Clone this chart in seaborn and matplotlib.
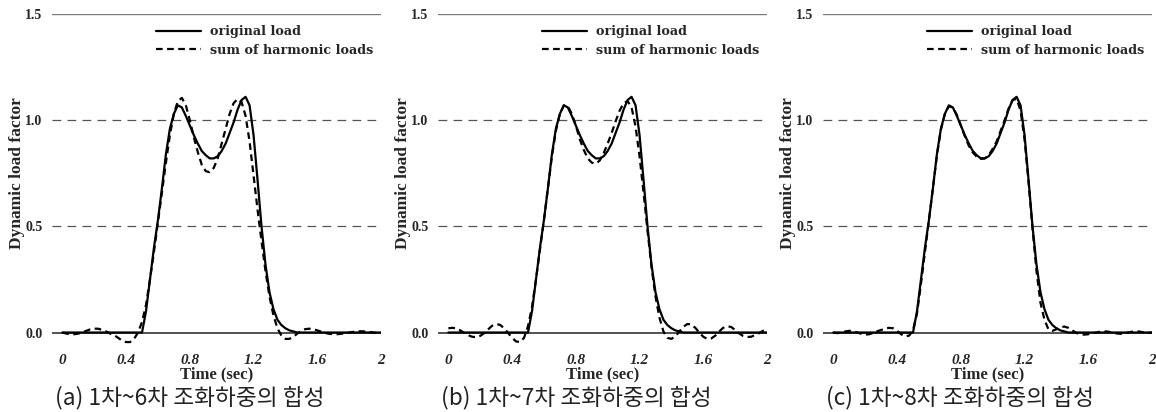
import numpy as np
import pandas as pd
import matplotlib
matplotlib.use("Agg")
import matplotlib.pyplot as plt
from matplotlib.lines import Line2D
import seaborn as sns

# ---------------- data ----------------
time_s = np.linspace(0, 2, 81)          # sampling grid, 0.025 s step

original_load = [
    0, 0, 0, 0, 0, 0, 0, 0, 0, 0, 0, 0, 0, 0, 0, 0, 0, 0, 0, 0, 0,
    0.10, 0.25, 0.40, 0.53, 0.68, 0.84, 0.96, 1.03, 1.07, 1.06,
    1.02, 0.975, 0.93, 0.89, 0.855, 0.835, 0.82, 0.82, 0.83, 0.855,
    0.89, 0.94, 0.99, 1.05, 1.095, 1.11, 1.07, 0.93, 0.72, 0.50,
    0.32, 0.19, 0.11, 0.06, 0.035, 0.02, 0.01, 0.005,
    0, 0, 0, 0, 0, 0, 0, 0, 0, 0, 0, 0, 0, 0, 0, 0, 0, 0, 0, 0, 0, 0,
]

harmonic_sum_6 = [
    0.0, -0.005, -0.008, -0.008, -0.005, 0.0, 0.008, 0.015, 0.018, 0.018,
    0.012, 0.005, -0.005, -0.012, -0.025, -0.038, -0.045, -0.045, -0.03, 0.0, 0.05,
    0.13, 0.25, 0.38, 0.52, 0.66, 0.80, 0.93, 1.03, 1.09, 1.105,
    1.07, 1.0, 0.92, 0.85, 0.79, 0.76, 0.755, 0.775, 0.82, 0.89,
    0.96, 1.03, 1.08, 1.10, 1.085, 1.02, 0.90, 0.74, 0.58, 0.43,
    0.29, 0.17, 0.08, 0.02, -0.015, -0.03, -0.03, -0.02, -0.005, 0.008,
    0.016, 0.018, 0.016, 0.01, 0.004, -0.002, -0.006, -0.008, -0.008, -0.006,
    -0.003, 0.0, 0.003, 0.005, 0.006, 0.005, 0.003, 0.0, -0.002, 0.0,
]

harmonic_sum_7 = [
    0.02, 0.022, 0.02, 0.01, -0.002, -0.013, -0.02, -0.022, -0.016, -0.003,
    0.015, 0.032, 0.04, 0.036, 0.02, -0.002, -0.025, -0.042, -0.045, -0.025, 0.03,
    0.12, 0.25, 0.39, 0.53, 0.68, 0.83, 0.95, 1.03, 1.07, 1.065,
    1.03, 0.975, 0.91, 0.86, 0.82, 0.80, 0.795, 0.81, 0.845, 0.89,
    0.94, 0.995, 1.045, 1.08, 1.09, 1.06, 0.97, 0.83, 0.66, 0.48,
    0.31, 0.17, 0.07, 0.005, -0.025, -0.03, -0.018, 0.005, 0.027, 0.04,
    0.038, 0.022, 0.0, -0.02, -0.03, -0.028, -0.015, 0.005, 0.022, 0.03,
    0.026, 0.012, -0.004, -0.016, -0.021, -0.02, -0.012, -0.003, 0.008, 0.015,
]

harmonic_sum_8 = [
    0.0, -0.003, 0.0, 0.005, 0.008, 0.006, 0.0, -0.006, -0.01, -0.008,
    -0.002, 0.006, 0.012, 0.018, 0.022, 0.02, 0.008, -0.008, -0.018, -0.015, 0.01,
    0.09, 0.23, 0.38, 0.53, 0.68, 0.835, 0.955, 1.03, 1.065, 1.06,
    1.025, 0.975, 0.925, 0.88, 0.848, 0.828, 0.818, 0.82, 0.835, 0.865,
    0.90, 0.95, 1.0, 1.055, 1.095, 1.10, 1.045, 0.91, 0.71, 0.49,
    0.29, 0.14, 0.06, 0.015, 0.008, 0.015, 0.025, 0.028, 0.022, 0.01,
    -0.002, -0.008, -0.01, -0.008, -0.004, 0.0, 0.004, 0.006, 0.004, 0.0,
    -0.004, -0.006, -0.004, 0.0, 0.004, 0.006, 0.004, 0.0, -0.002, 0.0,
]

x_ticks = [0, 0.4, 0.8, 1.2, 1.6, 2]
x_tick_labels = ["0", "0.4", "0.8", "1.2", "1.6", "2"]
y_ticks = [0.0, 0.5, 1.0, 1.5]
y_tick_labels = ["0.0", "0.5", "1.0", "1.5"]

series_labels = ["original load", "sum of harmonic loads"]
captions = ["(a) 1차~6차 조화하중의 합성",
            "(b) 1차~7차 조화하중의 합성",
            "(c) 1차~8차 조화하중의 합성"]
harmonic_sets = [harmonic_sum_6, harmonic_sum_7, harmonic_sum_8]

# ---------------- style ----------------
sns.set_style("white")
plt.rcParams["font.family"] = ["Liberation Serif", "DejaVu Serif"]

fig = plt.figure(figsize=(11.56, 4.12), dpi=100)

W, H = 1156, 412
lefts_px = [52, 438, 823]
width_px = 329
rects = [(l / W, 0.162, width_px / W, 0.804) for l in lefts_px]

for rect, harm, cap in zip(rects, harmonic_sets, captions):
    ax = fig.add_axes(rect)
    df = pd.DataFrame({
        "t": np.concatenate([time_s, time_s]),
        "v": np.concatenate([original_load, harm]),
        "s": [series_labels[0]] * len(time_s) + [series_labels[1]] * len(time_s),
    })
    # reference lines
    ax.axhline(1.5, color="#7a7a7a", lw=1.0, zorder=1)
    ax.axhline(1.0, color="#555555", lw=0.9, ls=(0, (7, 5)), zorder=1)
    ax.axhline(0.5, color="#555555", lw=0.9, ls=(0, (7, 5)), zorder=1)
    ax.axhline(0.0, color="#333333", lw=1.2, zorder=1)

    sns.lineplot(data=df, x="t", y="v", style="s", estimator=None,
                 color="black", lw=1.6, ax=ax, legend=False,
                 dashes={series_labels[0]: "", series_labels[1]: (3, 2)},
                 zorder=3)

    ax.set_xlim(-0.065, 2)
    ax.set_ylim(-0.06, 1.5)
    for sp in ax.spines.values():
        sp.set_visible(False)

    ax.set_xticks(x_ticks)
    ax.set_xticklabels(x_tick_labels, fontsize=11, fontweight="bold",
                       fontstyle="italic")
    ax.set_yticks(y_ticks)
    ax.set_yticklabels(y_tick_labels, fontsize=10, fontweight="bold")
    ax.tick_params(axis="x", length=0, pad=6)
    ax.tick_params(axis="y", length=4, width=0.8, color="#666666", pad=3)

    ax.set_xlabel("Time (sec)", fontsize=12, fontweight="bold", labelpad=0)
    ax.set_ylabel("Dynamic load factor", fontsize=12.5, fontweight="bold")
    ax.yaxis.set_label_coords(-0.083, 0.52)

    handles = [Line2D([], [], color="black", lw=1.6),
               Line2D([], [], color="black", lw=1.6, ls=(0, (3, 2)))]
    ax.legend(handles, series_labels, loc="upper right",
              bbox_to_anchor=(1.0, 0.99), frameon=False,
              prop={"family": "DejaVu Serif", "weight": "bold", "size": 9.2},
              handlelength=3.5, handletextpad=0.7, labelspacing=0.45,
              borderaxespad=0.2)

    ax.text(0.01, -0.157, cap, transform=ax.transAxes, ha="left", va="center",
            fontsize=16.3, family=["Noto Sans CJK KR", "DejaVu Sans"],
            fontweight="light", color="#222222")

fig.savefig("out.png", dpi=100)
